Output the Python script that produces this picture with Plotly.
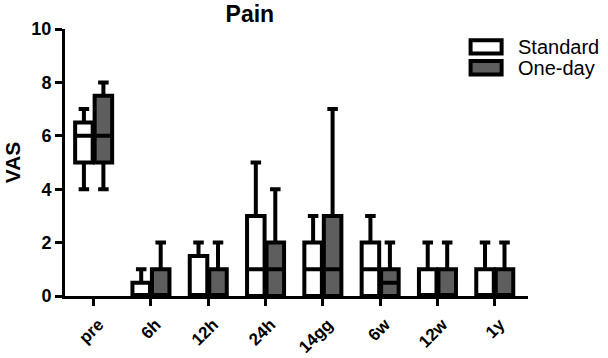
import plotly.graph_objects as go

categories = ["pre", "6h", "12h", "24h", "14gg", "6w", "12w", "1y"]

std_min = [4, 0, 0, 0, 0, 0, 0, 0]
std_q1 = [5, 0, 0, 0, 0, 0, 0, 0]
std_med = [6, 0, 0, 1, 1, 1, 0, 0]
std_q3 = [6.5, 0.5, 1.5, 3, 2, 2, 1, 1]
std_max = [7, 1, 2, 5, 3, 3, 2, 2]

one_min = [4, 0, 0, 0, 0, 0, 0, 0]
one_q1 = [5, 0, 0, 0, 0, 0, 0, 0]
one_med = [6, 0, 0, 1, 1, 0.5, 0, 0]
one_q3 = [7.5, 1, 1, 2, 3, 1, 1, 1]
one_max = [8, 2, 2, 4, 7, 2, 2, 2]

series_names = ["Standard", "One-day"]
series_fill = ["white", "#5e5e5e"]

FONT = "Liberation Sans, Arial, sans-serif"

fig = go.Figure()
for name, fill, lo, q1, med, q3, hi in [
    (series_names[0], series_fill[0], std_min, std_q1, std_med, std_q3, std_max),
    (series_names[1], series_fill[1], one_min, one_q1, one_med, one_q3, one_max),
]:
    fig.add_trace(go.Box(
        name=name, x=categories,
        q1=q1, median=med, q3=q3, lowerfence=lo, upperfence=hi,
        fillcolor=fill, line=dict(color="black", width=4),
        whiskerwidth=0.6, boxpoints=False, showlegend=False,
    ))

# custom legend (paper coordinates)
for i, (name, fill) in enumerate(zip(series_names, series_fill)):
    y0 = 0.958 - i * 0.078
    fig.add_shape(type="rect", xref="paper", yref="paper",
                  x0=0.876, x1=0.943, y0=y0 - 0.05, y1=y0,
                  line=dict(color="black", width=4), fillcolor=fill)
    fig.add_annotation(text=name, xref="paper", yref="paper",
                       x=0.975, y=y0 - 0.025, xanchor="left", yanchor="middle",
                       showarrow=False, font=dict(family=FONT, size=20, color="black"))

fig.update_layout(
    width=608, height=358,
    paper_bgcolor="white", plot_bgcolor="white",
    margin=dict(l=65, r=80, t=29, b=62),
    boxmode="group", boxgap=0.32, boxgroupgap=0.1,
    title=dict(text="<b>Pain</b>", x=0.411, xanchor="center", y=0.96, yanchor="middle",
               font=dict(family=FONT, size=23, color="black")),
    font=dict(family=FONT, color="black"),
    showlegend=False,
)
fig.update_xaxes(
    type="category", range=[-0.5, 7.58], automargin=False,
    showline=True, linecolor="black", linewidth=3,
    ticks="outside", ticklen=7, tickwidth=3, tickcolor="black",
    tickangle=-45, showgrid=False, zeroline=False,
    ticklabelstandoff=2, ticklabelshift=5,
    tickfont=dict(family=FONT, size=17, color="black", weight="bold"),
)
fig.update_yaxes(
    range=[0, 10], tickvals=[0, 2, 4, 6, 8, 10], automargin=False,
    showline=True, linecolor="black", linewidth=3,
    ticks="outside", ticklen=7, tickwidth=3, tickcolor="black",
    showgrid=False, zeroline=False,
    tickfont=dict(family=FONT, size=18, color="black", weight="bold"),
    title=dict(text="<b>VAS</b>", font=dict(family=FONT, size=21, color="black"), standoff=6),
)

fig.write_html("out.html", config={"displayModeBar": False},
               post_script="document.body.style.margin='0';document.body.style.overflow='hidden';")
